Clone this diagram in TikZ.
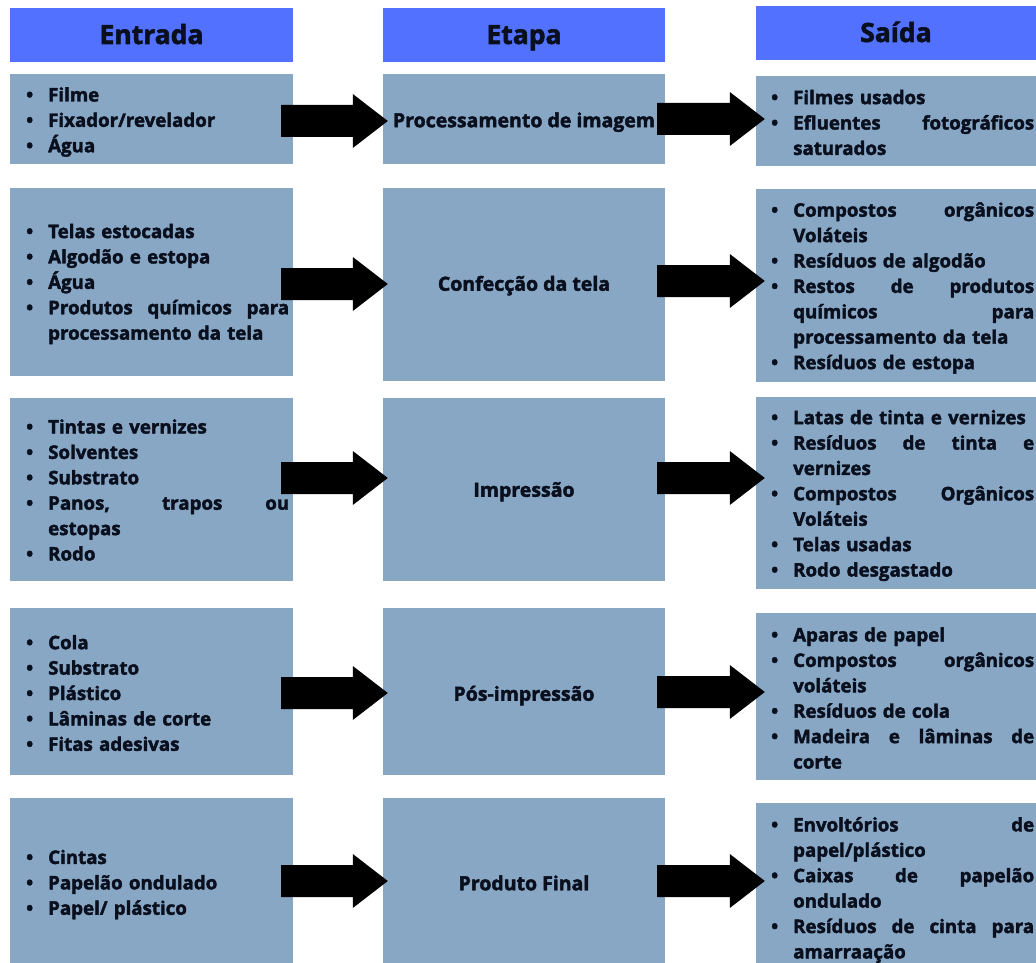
\documentclass[tikz,border=0pt]{standalone}
\usepackage{fontspec}
\setmainfont{Open Sans}[BoldFeatures={FakeBold=2.1}]
\usetikzlibrary{calc}
\definecolor{hdr}{HTML}{5271FF}
\definecolor{bodyc}{HTML}{87A7C4}
\definecolor{ink}{HTML}{0A0F1E}
\newcommand\bl{\makebox[22pt][l]{•}}
\newcommand\cl{\hspace*{22pt}}
\newcommand\jl[1]{\hbox to 241pt{\spaceskip=0.3em plus 1fill\relax #1}}
\newcommand\blockarrow[2]{%
  \fill[black] let \p1=#1, \p2=#2 in
    (\x1,\y1+16pt) -- (\x2-35pt,\y1+16pt) -- (\x2-35pt,\y1+27pt) -- (\x2,\y1)
    -- (\x2-35pt,\y1-27pt) -- (\x2-35pt,\y1-16pt) -- (\x1,\y1-16pt) -- cycle;}
\tikzset{
  hdrbox/.style={fill=hdr, inner sep=0pt, text=ink, text height=20pt, text depth=2pt,
    font=\fontsize{26.5}{30}\selectfont\bfseries},
  bodybox/.style={fill=bodyc, inner sep=0pt},
  listtxt/.style={anchor=west, inner sep=0pt, text width=263pt, align=left, text=ink,
    font=\fontsize{18.7}{25.4}\selectfont\bfseries},
  midtxt/.style={inner sep=0pt, text=ink, text height=15pt, text depth=1.5pt,
    font=\fontsize{19.5}{25}\selectfont\bfseries},
}
\begin{document}
\begin{tikzpicture}[x=1pt,y=-1pt]
\useasboundingbox (0,0) rectangle (1036,963);
% headers
\node[hdrbox, minimum width=283, minimum height=54] (hE) at (151.5,35) {Entrada};
\node[hdrbox, minimum width=282, minimum height=54] (hM) at (524,35) {Etapa};
\node[hdrbox, minimum width=280, minimum height=54] (hS) at (896,33) {Saída};
% row 1
\node[bodybox, minimum width=283, minimum height=90] (e1) at (151.5,119) {};
\node[bodybox, minimum width=282, minimum height=90] (m1) at (524,119) {};
\node[bodybox, minimum width=280, minimum height=90] (o1) at (896,121) {};
% row 2
\node[bodybox, minimum width=283, minimum height=188] (e2) at (151.5,282) {};
\node[bodybox, minimum width=282, minimum height=193] (m2) at (524,284.5) {};
\node[bodybox, minimum width=280, minimum height=193] (o2) at (896,285.5) {};
% row 3
\node[bodybox, minimum width=283, minimum height=183] (e3) at (151.5,489.5) {};
\node[bodybox, minimum width=282, minimum height=183] (m3) at (524,489.5) {};
\node[bodybox, minimum width=280, minimum height=192] (o3) at (896,493) {};
% row 4
\node[bodybox, minimum width=283, minimum height=167] (e4) at (151.5,691.5) {};
\node[bodybox, minimum width=282, minimum height=167] (m4) at (524,691.5) {};
\node[bodybox, minimum width=280, minimum height=167] (o4) at (896,696.5) {};
% row 5
\node[bodybox, minimum width=283, minimum height=165] (e5) at (151.5,880.5) {};
\node[bodybox, minimum width=282, minimum height=165] (m5) at (524,880.5) {};
\node[bodybox, minimum width=280, minimum height=160] (o5) at (896,883) {};

% left texts
\node[listtxt] (te1) at (26,122) {\bl Filme\\ \bl Fixador/revelador\\ \bl Água};
\node[listtxt] (te2) at (26,284) {\bl Telas estocadas\\ \bl Algodão e estopa\\ \bl Água\\
  \bl\jl{Produtos químicos para}\\ \cl processamento da tela};
\node[listtxt] (te3) at (26,490) {\bl Tintas e vernizes\\ \bl Solventes\\ \bl Substrato\\
  \bl\jl{Panos, trapos ou}\\ \cl estopas\\ \bl Rodo};
\node[listtxt] (te4) at (26,693) {\bl Cola\\ \bl Substrato\\ \bl Plástico\\
  \bl Lâminas de corte\\ \bl Fitas adesivas};
\node[listtxt] (te5) at (26,884.5) {\bl Cintas\\ \bl Papelão ondulado\\ \bl Papel/ plástico};

% middle texts
\node[midtxt] (tm1) at (524,120.5) {Processamento de imagem};
\node[midtxt] (tm2) at (524,284) {Confecção da tela};
\node[midtxt] (tm3) at (524,490) {Impressão};
\node[midtxt] (tm4) at (524,694) {Pós-impressão};
\node[midtxt] (tm5) at (524,883.5) {Produto Final};

% right texts
\node[listtxt] (to1) at (771,122.5) {\bl Filmes usados\\ \bl\jl{Efluentes fotográficos}\\ \cl saturados};
\node[listtxt] (to2) at (771,288) {\bl\jl{Compostos orgânicos}\\ \cl Voláteis\\ \bl Resíduos de algodão\\
  \bl\jl{Restos de produtos}\\ \cl\jl{químicos para}\\ \cl processamento da tela\\ \bl Resíduos de estopa};
\node[listtxt] (to3) at (771,495.5) {\bl Latas de tinta e vernizes\\ \bl\jl{Resíduos de tinta e}\\ \cl vernizes\\
  \bl\jl{Compostos Orgânicos}\\ \cl Voláteis\\ \bl Telas usadas\\ \bl Rodo desgastado};
\node[listtxt] (to4) at (771,698) {\bl Aparas de papel\\ \bl\jl{Compostos orgânicos}\\ \cl voláteis\\
  \bl Resíduos de cola\\ \bl\jl{Madeira e lâminas de}\\ \cl corte};
\node[listtxt] (to5) at (771,890) {\bl\jl{Envoltórios de}\\ \cl papel/plástico\\ \bl\jl{Caixas de papelão}\\
  \cl ondulado\\ \bl\jl{Resíduos de cinta para}\\ \cl amarraação};

% arrows
\coordinate (r1) at (0,121);
\coordinate (q1) at (0,119);
\coordinate (r2) at (0,284);
\coordinate (q2) at (0,281);
\coordinate (r3) at (0,478);
\coordinate (q3) at (0,478);
\coordinate (r4) at (0,693);
\coordinate (q4) at (0,692);
\coordinate (r5) at (0,881);
\coordinate (q5) at (0,881);
\foreach \i in {1,...,5}{
  \blockarrow{($(e\i.east|-r\i)+(-12,0)$)}{($(m\i.west|-r\i)+(5,0)$)}
  \blockarrow{($(m\i.east|-q\i)+(-8,0)$)}{($(o\i.west|-q\i)+(9,0)$)}
}
\end{tikzpicture}
\end{document}
